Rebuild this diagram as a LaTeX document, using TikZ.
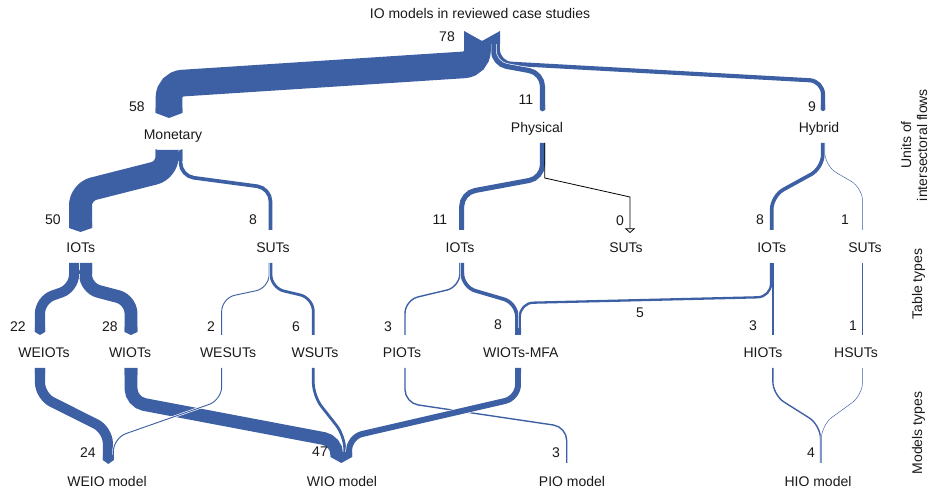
\documentclass[tikz,border=0pt]{standalone}
\usepackage{fontspec}
\setmainfont{Liberation Sans}
\usetikzlibrary{arrows.meta}
\definecolor{flowc}{RGB}{61,96,165}
\definecolor{txt}{RGB}{25,25,25}
\newcommand\sankeychev[4]{% xl, xr, yend, depth
  \fill[flowc] (#1,#3-5) -- (#2,#3-5) -- (#2,#3) -- ({(#1+#2)/2},#3+#4) -- (#1,#3) -- cycle;}
\newcommand\sankeynotch[4]{% xl, xr, ytop, depth
  \fill[flowc] (#1,#3) -- ({(#1+#2)/2},#3+#4) -- (#2,#3) -- (#2,#3+#4+3) -- (#1,#3+#4+3) -- cycle;}
\begin{document}
\begin{tikzpicture}[x=0.75pt,y=-0.75pt,
  lbl/.style={font=\fontsize{10.5}{12.6}\selectfont, text=txt, inner sep=0pt, text height=7.5pt, text depth=0pt},
  fl/.style={draw=flowc, line width=#1*0.345pt, rounded corners=10pt,
             preaction={draw=white, line width=#1*0.345pt+1pt}},
  zero/.style={draw=black, line width=0.6pt, -{Triangle[open,length=3.5pt,width=8pt]}}
 ]
\useasboundingbox (0,0) rectangle (932,491);

% ---------- level 0 -> 1 ----------
\draw[fl=9]  (497.91,41) -- (497.91,63) -- (823,81) -- (823,110);
\draw[fl=11] (493.31,41) -- (493.31,64) -- (542.5,73) -- (542.5,110);
\draw[fl=58] (477.44,41) -- (477.44,64) -- (169,84) -- (169,113);
\sankeynotch{464.1}{500}{31}{10}
\sankeychev{155.65}{182.35}{113}{5}
\sankeychev{540}{545}{110}{1.5}
\sankeychev{820.9}{825.1}{110}{1.2}

% ---------- level 1 -> 2 ----------
\draw[fl=8]  (180.49,150) -- (180.49,176) -- (270.5,188) -- (270.5,230);
\draw[fl=50] (167.15,150) -- (167.15,170) -- (80.5,192) -- (80.5,228);
\sankeynotch{155.65}{182.35}{149}{9}
\sankeychev{69}{92}{228}{4}

\draw[fl=11] (542.5,143) -- (542.5,178) -- (461.7,193) -- (461.7,230);
\draw[zero] (544.8,143) -- (544.8,178) -- (630,197) -- (630,233);

\draw[fl=1] (824.85,143) -- (824.85,166) -- (862.7,188) -- (862.7,230);
\draw[fl=8] (822.77,143) -- (822.77,168) -- (771.7,196) -- (771.7,230);

% ---------- level 2 -> 3 ----------
\draw[fl=28] (85.56,263) -- (85.56,288) -- (131,300) -- (131,332);
\draw[fl=22] (74.06,263) -- (74.06,288) -- (40,300) -- (40,332);
\sankeynotch{69}{92}{263}{8}
\sankeychev{34.94}{45.06}{332}{3}
\sankeychev{124.56}{137.44}{332}{3}

\draw[fl=2] (269.12,263) -- (269.12,288) -- (221.7,298) -- (221.7,335);
\draw[fl=6] (270.96,263) -- (270.96,288) -- (313.3,298) -- (313.3,335);

\draw[fl=3] (459.86,263) -- (459.86,287) -- (405,300) -- (405,335);
\draw[fl=8] (462.39,263) -- (462.39,287) -- (516.84,303) -- (516.84,335);

\draw[fl=5] (771.01,263) -- (771.01,297) -- (519.84,303) -- (519.84,335);
\draw[fl=3] (772.85,263) -- (772.85,335);
\sankeychev{515}{521}{333}{2}

\draw[fl=1] (862.7,263) -- (862.7,335);

% ---------- level 3 -> 4 ----------
\draw[fl=3]  (405,368) -- (405,403) -- (566.7,427) -- (566.7,463);
\draw[fl=28] (131,368) -- (131,402) -- (336.94,441) -- (336.94,457);
\draw[fl=6]  (313.3,368) -- (313.3,396) -- (344.76,436) -- (344.76,457);
\draw[fl=13] (518,368) -- (518,398) -- (349.13,437) -- (349.13,457);
\draw[fl=22] (40,368) -- (40,396) -- (107.86,430) -- (107.86,460);
\draw[fl=2]  (221.7,368) -- (221.7,400) -- (113.38,438) -- (113.38,460);
\draw[fl=3]  (772.85,368) -- (772.85,395) -- (820.49,425) -- (820.49,463);
\draw[fl=1]  (862.7,368) -- (862.7,395) -- (821.41,425) -- (821.41,463);
\sankeynotch{34.94}{45.06}{368}{3}
\sankeynotch{124.56}{137.44}{368}{4}
\sankeynotch{515}{521}{368}{2}
\sankeychev{102.8}{113.84}{460}{4}
\sankeychev{330.5}{352.12}{457}{6}

% ---------- labels ----------
\node[lbl] (title) at (480,14) {IO models in reviewed case studies};
\node[lbl] (n78) at (447,37) {78};
\node[lbl] (n58) at (137,107) {58};
\node[lbl] (n11a) at (526,100) {11};
\node[lbl] (n9) at (812,107) {9};
\node[lbl] (monetary) at (173,135) {Monetary};
\node[lbl] (physical) at (537,128) {Physical};
\node[lbl] (hybrid) at (819,128) {Hybrid};

\node[lbl] (n50) at (53,220) {50};
\node[lbl] (n8a) at (253,220) {8};
\node[lbl] (n11b) at (440,220) {11};
\node[lbl] (n0) at (620,221) {0};
\node[lbl] (n8b) at (760,220) {8};
\node[lbl] (n1a) at (845,220) {1};
\node[lbl] (iotm) at (80.8,248) {IOTs};
\node[lbl] (sutm) at (273,248) {SUTs};
\node[lbl] (iotp) at (460,248) {IOTs};
\node[lbl] (sutp) at (626,248) {SUTs};
\node[lbl] (ioth) at (771.7,248) {IOTs};
\node[lbl] (suth) at (865,248) {SUTs};

\node[lbl] (n22) at (18,327) {22};
\node[lbl] (n28) at (110,327) {28};
\node[lbl] (n2) at (211,327) {2};
\node[lbl] (n6) at (296,327) {6};
\node[lbl] (n3a) at (388,327) {3};
\node[lbl] (n8c) at (498,325) {8};
\node[lbl] (n5) at (640,313) {5};
\node[lbl] (n3b) at (753,326) {3};
\node[lbl] (n1b) at (853,326) {1};
\node[lbl] (weiots) at (44,353) {WEIOTs};
\node[lbl] (wiots) at (130,353) {WIOTs};
\node[lbl] (wesuts) at (228,353) {WESUTs};
\node[lbl] (wsuts) at (315,353) {WSUTs};
\node[lbl] (piots) at (402,353) {PIOTs};
\node[lbl] (wiotsmfa) at (520.8,353) {WIOTs-MFA};
\node[lbl] (hiots) at (763,353) {HIOTs};
\node[lbl] (hsuts) at (856,353) {HSUTs};

\node[lbl] (n24) at (88,453) {24};
\node[lbl] (n47) at (320,452) {47};
\node[lbl] (n3c) at (556,453) {3};
\node[lbl] (n4) at (811,453) {4};
\node[lbl] (weio) at (107,482) {WEIO model};
\node[lbl] (wio) at (342,482) {WIO model};
\node[lbl] (pio) at (572,482) {PIO model};
\node[lbl] (hio) at (818,482) {HIO model};

\node[lbl, rotate=90] (units1) at (906,145) {Units of};
\node[lbl, rotate=90] (units2) at (922,145) {intersectoral flows};
\node[lbl, rotate=90] (tabt) at (917,284) {Table types};
\node[lbl, rotate=90] (modt) at (917,433) {Models types};
\end{tikzpicture}
\end{document}
